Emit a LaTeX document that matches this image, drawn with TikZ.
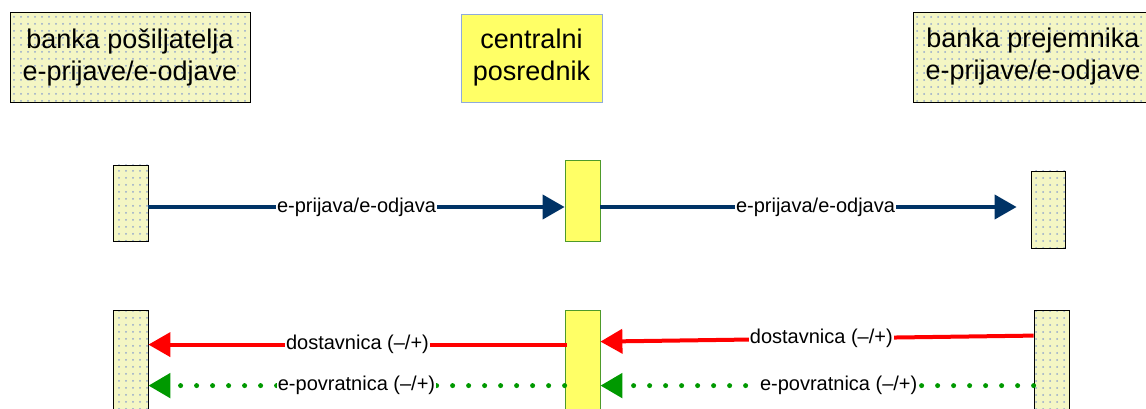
\documentclass[tikz,border=0pt]{standalone}
\usepackage{fontspec}
\setmainfont{Liberation Sans}
\usepackage{tikz}
\usetikzlibrary{arrows.meta,patterns.meta}
\definecolor{boxfill}{HTML}{F4F6C4}
\definecolor{dotcol}{HTML}{94A8CC}
\definecolor{cyell}{HTML}{FFFF66}
\definecolor{cblue}{HTML}{8FAADC}
\definecolor{cgreen}{HTML}{4E9A2A}
\definecolor{navy}{HTML}{003366}
\definecolor{dgreen}{HTML}{009900}

\begin{document}
\begin{tikzpicture}[x=1pt,y=-1pt]
						\tikzstyle{bank}=[rectangle,draw=black,line width=0.8pt,preaction={fill=boxfill},pattern={Dots[distance=7pt,radius=1pt]},pattern color=dotcol,inner sep=0pt]
						\tikzstyle{central}=[rectangle,draw=cblue,line width=0.8pt,fill=cyell,inner sep=0pt]
						\tikzstyle{cbar}=[rectangle,draw=cgreen,line width=0.8pt,fill=cyell,inner sep=0pt]
						\tikzstyle{title}=[font=\fontsize{27}{32}\selectfont,align=center]
						\tikzstyle{msg}=[fill=white,inner sep=1pt,font=\fontsize{20}{24}\selectfont]
						\tikzstyle{tip}=[-{Triangle[length=22pt,width=24pt]}]
						\useasboundingbox (0,0) rectangle (1146,409);
						% glava
						\node[bank,title,minimum width=240pt,minimum height=90pt](s0) at (130,57) {banka pošiljatelja\\e-prijave/e-odjave};
						\node[central,title,minimum width=141pt,minimum height=88pt](c0) at (531.5,58) {centralni\\posrednik};
						\node[bank,title,minimum width=240pt,minimum height=90pt](r0) at (1033,57) {banka prejemnika\\e-prijave/e-odjave};
						% e-prijava
						\node[bank,minimum width=35pt,minimum height=76pt](s1) at (130.5,203) {};
						\node[cbar,minimum width=35pt,minimum height=81pt](c1) at (582.5,200.5) {};
						\node[bank,minimum width=34pt,minimum height=77pt](r1) at (1048,209.5) {};
						\draw[tip,navy,line width=4pt](s1.east |- 0,207) -- (c1.west |- 0,207) node[msg,midway,text=black] {e-prijava/e-odjava};
						\draw[tip,navy,line width=4pt,shorten >=14pt](c1.east |- 0,207) -- (r1.west |- 0,207) node[msg,midway,text=black] {e-prijava/e-odjava};
						% dostavnica, e-povratnica
						\node[bank,minimum width=35pt,minimum height=120pt](s2) at (130.5,370) {};
						\node[cbar,minimum width=35pt,minimum height=120pt](c2) at (582.5,370) {};
						\node[bank,minimum width=35pt,minimum height=120pt](r2) at (1051.5,370) {};
						\draw[tip,red,line width=4pt]([xshift=2pt,yshift=-35pt]c2.north west) -- ([yshift=-35pt]s2.north east) node[msg,midway,text=black] {dostavnica (–/+)};
						\draw[tip,red,line width=4pt]([yshift=-26pt]r2.north west) -- ([yshift=-32pt]c2.north east) node[msg,pos=0.49,text=black] {dostavnica (–/+)};
						\draw[tip,dgreen,line width=5pt,line cap=round,dash pattern=on 0pt off 16pt]([yshift=-76pt]r2.north west) -- ([yshift=-76pt]c2.north east) node[msg,pos=0.45,text=black] {e-povratnica (–/+)};
						\draw[tip,dgreen,line width=5pt,line cap=round,dash pattern=on 0pt off 16pt]([yshift=-76pt]c2.north west) -- ([yshift=-76pt]s2.north east) node[msg,midway,text=black] {e-povratnica (–/+)};
					\end{tikzpicture}
\end{document}
